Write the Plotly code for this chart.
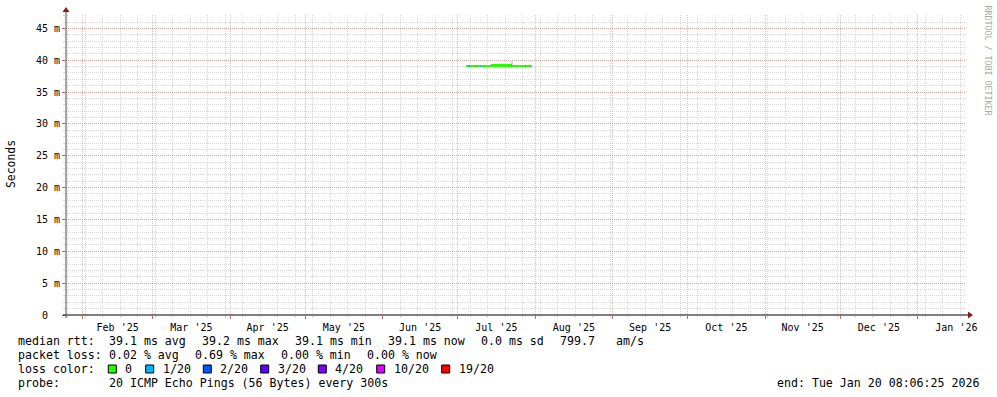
import plotly.graph_objects as go
import pandas as pd

# ---------------- data ----------------
START_TIME = "2025-01-25 08:06:25"
END_TIME = "2026-01-20 08:06:25"

bin_start = "2025-07-04 12:00:00"   # first consolidated sample
bin_hours = 12
median_ms = [
    39.1, 39.1, 39.1, 39.1, 39.1, 39.1, 39.1, 39.1, 39.1, 39.1,
    39.1, 39.1, 39.1, 39.1, 39.1, 39.1, 39.1, 39.1, 39.1, 39.1,
    39.2, 39.2, 39.2, 39.2, 39.2, 39.2, 39.2, 39.2, 39.2, 39.2,
    39.2, 39.2, 39.2, 39.2, 39.2, 39.2, 39.1, 39.1, 39.1, 39.1,
    39.1, 39.1, 39.1, 39.1, 39.1, 39.1, 39.1, 39.1, 39.1, 39.1,
    39.1, 39.1,
]
loss_pings = [
    0, 0, 1, 0, 0, 0, 0, 1, 0, 0,
    0, 1, 0, 0, 0, 0, 0, 0, 0, 0,
    0, 0, 0, 0, 0, 0, 0, 0, 0, 0,
    0, 0, 0, 0, 0, 0, 1, 0, 0, 0,
    0, 0, 0, 0, 0, 0, 0, 1, 0, 0,
    0, 0,
]
smoke_bins = ["2025-07-22 12:00:00"]
smoke_low_ms = [39.1]
smoke_high_ms = [39.87]

loss_steps = [0, 1, 2, 3, 4, 10, 19]
loss_labels = ["0", "1/20", "2/20", "3/20", "4/20", "10/20", "19/20"]
loss_colors = ["#26ff00", "#00b8ff", "#0059ff", "#5e00ff", "#7e00ff", "#dd00ff", "#ff0000"]

y_ticks = [0, 5, 10, 15, 20, 25, 30, 35, 40, 45]
y_tick_labels = ["0\u00a0\u00a0"] + [f"{v} m" for v in y_ticks[1:]]
Y_MAX = 47.1

legend_rtt = ["median rtt:", "39.1 ms avg", "39.2 ms max", "39.1 ms min",
              "39.1 ms now", "0.0 ms sd", "799.7", "am/s"]
legend_loss = ["packet loss:", "0.02 % avg", "0.69 % max", "0.00 % min", "0.00 % now"]
probe_text = ["probe:", "20 ICMP Echo Pings (56 Bytes) every 300s"]
end_text = "end: Tue Jan 20 08:06:25 2026"

# ---------------- layout geometry (pixels) ----------------
W, H = 997, 397
PL, PT, PW, PH = 66, 15, 900, 300


def px(x):
    return (x - PL) / PW


def py(y):
    return (PT + PH - y) / PH


MONO = "DejaVu Sans Mono"
MAJOR_GRID = "rgba(215,60,60,0.36)"
MINOR_GRID = "rgba(150,150,150,0.36)"
MAJOR_TICK = "rgba(150,40,40,0.7)"

# ---------------- traces ----------------
bin_ms = bin_hours * 3600 * 1000
starts = pd.date_range(bin_start, periods=len(median_ms), freq=f"{bin_hours}h")
centers = starts + pd.Timedelta(hours=bin_hours / 2)


def loss_color(n):
    c = loss_colors[0]
    for s, col in zip(loss_steps, loss_colors):
        if n >= s:
            c = col
    return c


half = 0.2
fig = go.Figure()

sm_centers = pd.to_datetime(smoke_bins) + pd.Timedelta(hours=bin_hours / 2)
fig.add_trace(go.Bar(
    x=sm_centers, base=smoke_low_ms,
    y=[h - l for h, l in zip(smoke_high_ms, smoke_low_ms)],
    width=bin_ms, marker=dict(color="#d4d4d4", line=dict(width=0)),
    showlegend=False, hoverinfo="skip",
))
fig.add_trace(go.Bar(
    x=centers, base=[m - half for m in median_ms], y=[2 * half] * len(median_ms),
    width=bin_ms, marker=dict(color=[loss_color(n) for n in loss_pings], line=dict(width=0)),
    showlegend=False, hoverinfo="skip",
))

shapes = []
annotations = []


def text(x, y, s, anchor="left", size=11.6, color="#000000", angle=0):
    annotations.append(dict(
        x=px(x), y=py(y), xref="paper", yref="paper", text=s, showarrow=False,
        xanchor=anchor, yanchor="middle", textangle=angle,
        font=dict(family=MONO, size=size, color=color),
    ))


# axes lines and arrows
shapes.append(dict(type="line", xref="paper", yref="paper", x0=px(63), x1=px(969),
                   y0=py(315), y1=py(315), line=dict(color="#000000", width=1), layer="above"))
shapes.append(dict(type="line", xref="paper", yref="paper", x0=px(66), x1=px(66),
                   y0=py(318), y1=py(11), line=dict(color="#505050", width=1), layer="above"))
shapes.append(dict(type="path", xref="paper", yref="paper",
                   path=f"M {px(968)} {py(311.5)} L {px(973)} {py(315)} L {px(968)} {py(318.5)} Z",
                   fillcolor="#8b1a1a", line=dict(width=0), layer="above"))
shapes.append(dict(type="path", xref="paper", yref="paper",
                   path=f"M {px(62.5)} {py(12)} L {px(66)} {py(7)} L {px(69.5)} {py(12)} Z",
                   fillcolor="#8b1a1a", line=dict(width=0), layer="above"))

# legend lines
rtt_x = [16, 107.3, 200.3, 293.3, 386, 479, 558.3, 614.3]
for x, s in zip(rtt_x, legend_rtt):
    text(x, 341, s)
loss_x = [16, 107.3, 193.3, 279.3, 365.3]
for x, s in zip(loss_x, legend_loss):
    text(x, 355, s)
text(16, 369, "loss color:")
box_x = [108.3, 145.7, 203.3, 260.7, 318.3, 376.7, 441.7]
for bx, lab, col in zip(box_x, loss_labels, loss_colors):
    shapes.append(dict(type="rect", xref="paper", yref="paper",
                       x0=px(bx), x1=px(bx + 8), y0=py(373), y1=py(365),
                       fillcolor=col, line=dict(color="#000000", width=1)))
    text(bx + 15, 369, lab)
text(16, 383, probe_text[0])
text(107.3, 383, probe_text[1])
text(980.5, 383, end_text, anchor="right")

# axis title and watermark
text(11, 164, "Seconds", anchor="center", size=11.4, angle=-90)
text(987.5, 60, "RRDTOOL / TOBI OETIKER", anchor="center", size=8.3, color="#a8a8a8", angle=90)

fig.update_layout(
    width=W, height=H,
    margin=dict(l=PL, r=W - PL - PW, t=PT, b=H - PT - PH, pad=0),
    paper_bgcolor="#ffffff", plot_bgcolor="#ffffff",
    barmode="overlay", bargap=0,
    shapes=shapes, annotations=annotations,
    showlegend=False,
    xaxis=dict(
        type="date", range=[START_TIME, END_TIME],
        tickmode="linear", tick0="2025-01-01", dtick="M1",
        ticklabelmode="period", tickformat="%b '%y",
        showgrid=True, gridcolor=MAJOR_GRID, griddash="1px,1px", gridwidth=1,
        ticks="outside", ticklen=3, tickcolor=MAJOR_TICK, tickwidth=1,
        tickfont=dict(family=MONO, size=10, color="#000000"),
        showline=False, zeroline=False,
        minor=dict(tickmode="linear", tick0="2025-01-05", dtick=7 * 86400000,
                   showgrid=True, gridcolor=MINOR_GRID, griddash="1px,1px", gridwidth=1,
                   ticks="outside", ticklen=2, tickcolor=MINOR_GRID),
        fixedrange=True,
    ),
    yaxis=dict(
        range=[0, Y_MAX],
        tickmode="array", tickvals=y_ticks, ticktext=y_tick_labels,
        showgrid=True, gridcolor=MAJOR_GRID, griddash="1px,1px", gridwidth=1,
        ticks="outside", ticklen=3, tickcolor=MAJOR_TICK, tickwidth=1,
        tickfont=dict(family=MONO, size=10, color="#000000"),
        showline=False, zeroline=False,
        minor=dict(tickmode="linear", tick0=0, dtick=1,
                   showgrid=True, gridcolor=MINOR_GRID, griddash="1px,1px", gridwidth=1,
                   ticks="outside", ticklen=2, tickcolor=MINOR_GRID),
        fixedrange=True,
    ),
)

fig.write_html("out.html", config={"displayModeBar": False})
